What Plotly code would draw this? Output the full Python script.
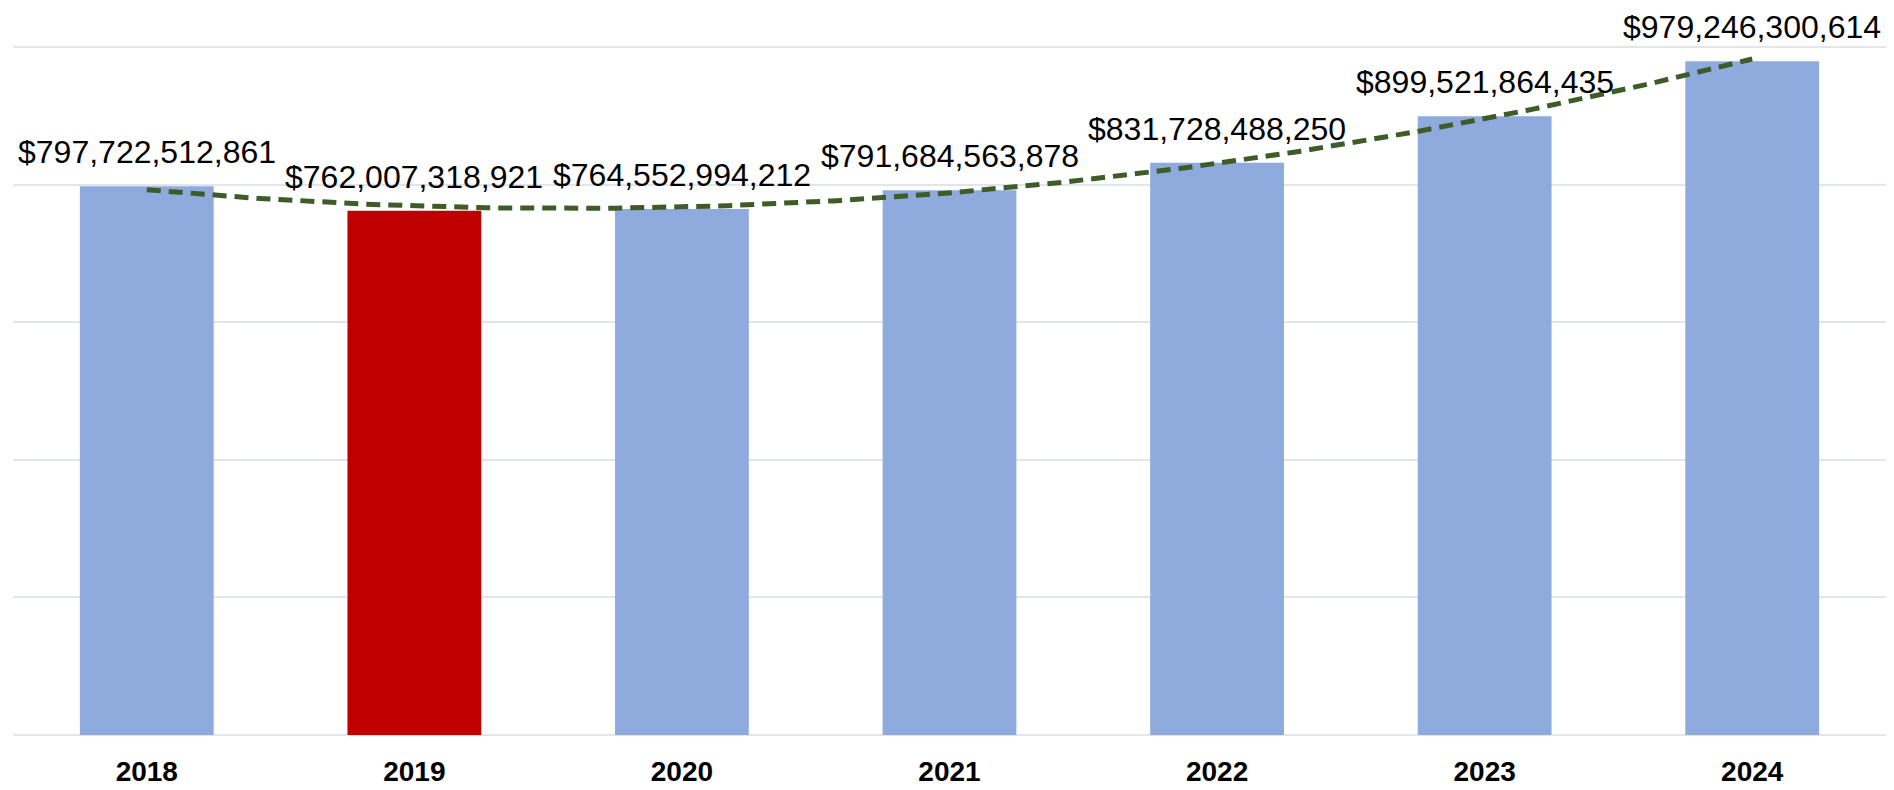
import numpy as np
import plotly.graph_objects as go

years = ["2018", "2019", "2020", "2021", "2022", "2023", "2024"]
values = [797722512861, 762007318921, 764552994212, 791684563878,
          831728488250, 899521864435, 979246300614]
bar_colors = ["#8FAADC", "#C00000", "#8FAADC", "#8FAADC", "#8FAADC", "#8FAADC", "#8FAADC"]
grid_vals = [0, 2e11, 4e11, 6e11, 8e11, 1e12]

x = np.arange(len(years))
coef = np.polyfit(x, np.array(values, dtype=float), 2)
xt = np.linspace(0, len(years) - 1, 200)
yt = np.polyval(coef, xt)

fig = go.Figure()
fig.add_trace(go.Bar(x=x, y=values, marker=dict(color=bar_colors, line=dict(width=0)),
                     width=0.5, showlegend=False, hoverinfo="skip"))
fig.add_trace(go.Scatter(x=xt, y=yt, mode="lines",
                         line=dict(color="#3D5C27", width=5, dash="14px,8px"),
                         showlegend=False, hoverinfo="skip"))

for i, v in enumerate(values):
    fig.add_annotation(x=i, y=v, text="${:,}".format(v), showarrow=False,
                       yanchor="bottom", xanchor="center", yshift=14,
                       font=dict(family="Liberation Sans, Arial, sans-serif", size=32, color="#000000"))

fig.update_layout(
    template="none",
    width=1894, height=790,
    margin=dict(l=13, r=8, t=45, b=55),
    paper_bgcolor="white", plot_bgcolor="white",
    bargap=0.5,
    xaxis=dict(range=[-0.5, len(years) - 0.5], tickmode="array", tickvals=list(x), ticktext=years,
               showgrid=False, zeroline=False, showline=False, ticks="",
               ticklabelstandoff=17, automargin=False,
               tickfont=dict(family="Liberation Sans, Arial, sans-serif", size=28, color="#000000", weight="bold")),
    yaxis=dict(range=[0, 1.003e12], tickmode="array", tickvals=grid_vals,
               showticklabels=False, showgrid=True,
               gridcolor="#E2E6EC", gridwidth=2, zeroline=True, zerolinecolor="#E2E6EC",
               zerolinewidth=2, showline=False, ticks="", automargin=False),
)

fig.write_html("out.html", config={"displayModeBar": False},
               post_script="document.body.style.margin='0';document.body.style.overflow='hidden';")
